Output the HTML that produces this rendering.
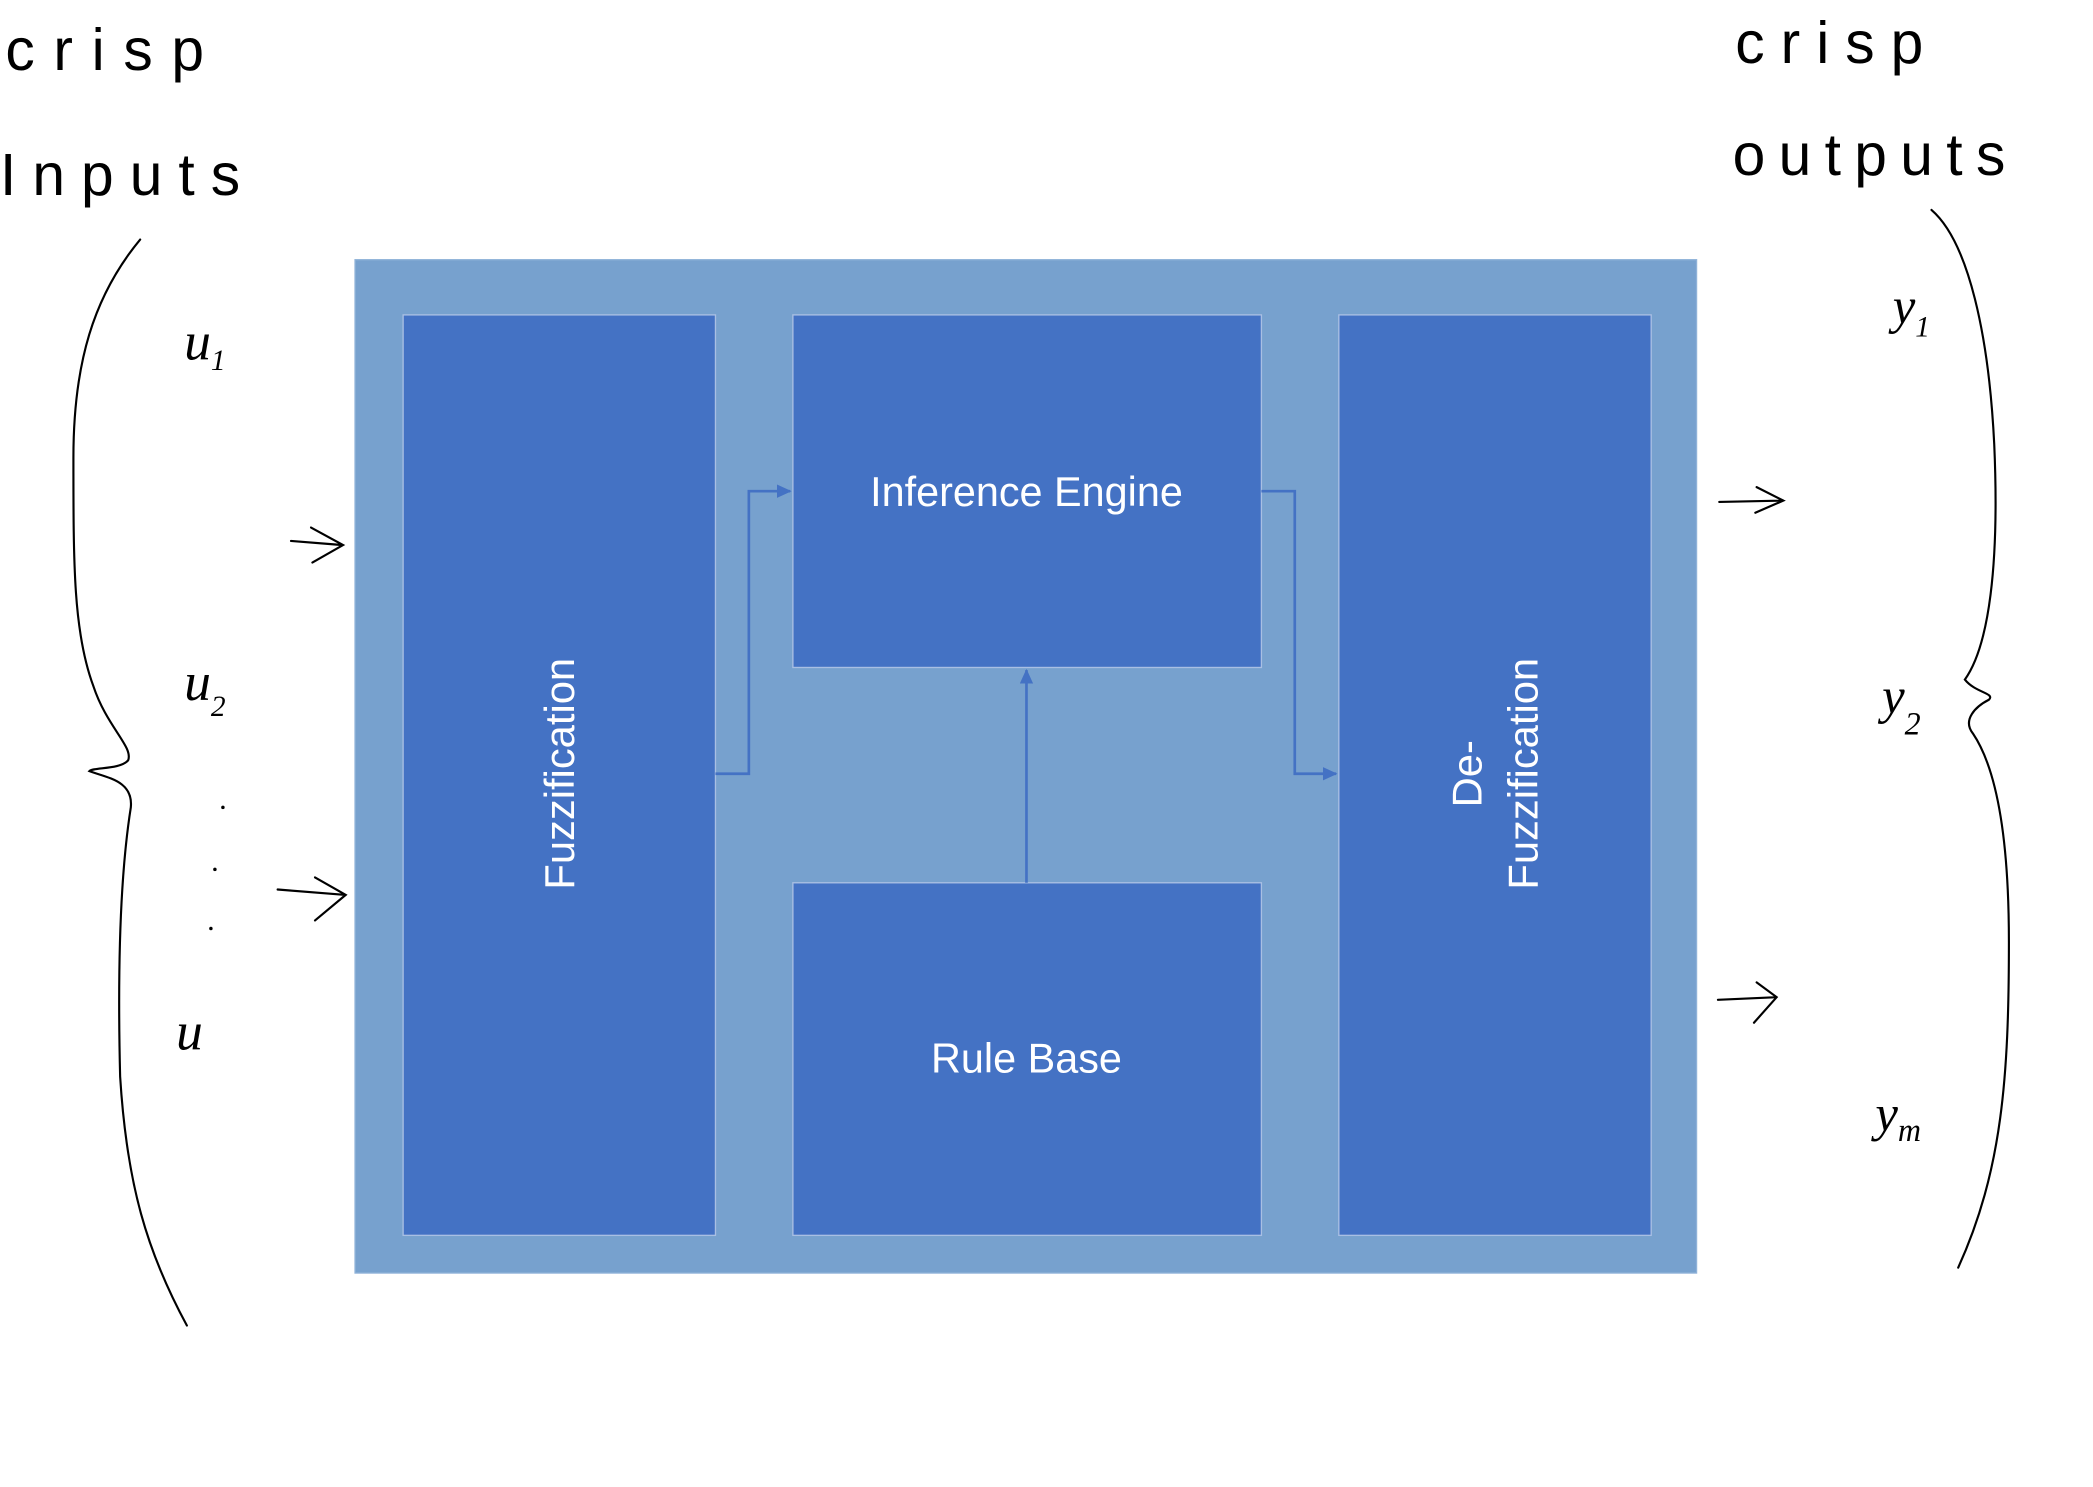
<!DOCTYPE html>
<html><head><meta charset="utf-8"><style>
html,body{margin:0;padding:0;background:#fff;}
svg{display:block;}
</style></head><body>
<svg width="2093" height="1487" viewBox="0 0 1568 1105" preserveAspectRatio="none" xmlns="http://www.w3.org/2000/svg">
<defs>
<marker id="ah" markerWidth="11" markerHeight="11" refX="10" refY="5" orient="auto" markerUnits="userSpaceOnUse">
<path d="M0,0 L11,5 L0,10 z" fill="#4472C4"/>
</marker>
</defs>
<rect x="0" y="0" width="1568" height="1105" fill="#fff"/>
<rect x="266" y="193" width="1005" height="753" fill="#77A1CE" stroke="#8fb2d8" stroke-width="1"/>
<g fill="#4472C4" stroke="#a9bfe3" stroke-width="1">
<rect x="302" y="234" width="234" height="684"/>
<rect x="594" y="234" width="351" height="262"/>
<rect x="594" y="656" width="351" height="262"/>
<rect x="1003" y="234" width="234" height="684"/>
</g>
<g stroke="#4472C4" stroke-width="2" fill="none">
<path d="M536,575 H561 V365 H592" marker-end="url(#ah)"/>
<path d="M945,365 H970 V575 H1001" marker-end="url(#ah)"/>
<path d="M769,656 V498" marker-end="url(#ah)"/>
</g>
<g fill="#fff" font-family="Liberation Sans, sans-serif" font-size="31" text-anchor="middle">
<text x="769" y="376">Inference Engine</text>
<text x="769" y="797">Rule Base</text>
<text transform="translate(430,575) rotate(-90)">Fuzzification</text>
<text transform="translate(1110,575) rotate(-90)" x="0" y="0">De-</text>
<text transform="translate(1152,575) rotate(-90)">Fuzzification</text>
</g>
<g fill="none" stroke="#000" stroke-width="1.6" stroke-linecap="round">
<path d="M105,178 C70,220 55,270 55,340 C55,420 55,470 70,510 C80,540 100,555 96,565 C90,572 70,570 67,573 C80,578 100,580 98,600 C90,650 88,720 90,800 C95,880 110,930 140,985"/>
<path d="M1447,156 C1475,180 1490,250 1494,330 C1498,420 1490,480 1472,505 C1480,515 1495,515 1490,520 C1480,525 1470,535 1478,545 C1495,570 1505,620 1505,700 C1505,800 1500,870 1467,942"/>
<path d="M218,402 L256,405 M233,392 L257,405 L234,418"/>
<path d="M208,661 L259,665 M236,652 L259,665 L236,684"/>
<path d="M1288,373 L1336,372 M1316,362 L1336,372 L1315,381"/>
<path d="M1287,743 L1331,741 M1316,730 L1331,741 L1314,760"/>
</g>
<g fill="#000" font-family="Liberation Sans, sans-serif" font-weight="300" font-size="44">
<text x="4" y="52" letter-spacing="14">crisp</text>
<text x="0" y="145" letter-spacing="12">Inputs</text>
<text x="1300" y="47" letter-spacing="12">crisp</text>
<text x="1298" y="130" letter-spacing="10">outputs</text>
</g>
<g fill="#000" font-family="Liberation Serif, serif" font-style="italic" font-size="42">
<text x="138" y="267" font-size="40">u<tspan font-size="22" dy="8">1</tspan></text>
<text x="138" y="520" font-size="40">u<tspan font-size="22" dy="12">2</tspan></text>
<text x="132" y="780" font-size="40">u</text>
<text x="1418" y="240" font-size="38">y<tspan font-size="22" dy="10">1</tspan></text>
<text x="1410" y="530" font-size="38">y<tspan font-size="24" dy="16">2</tspan></text>
<text x="1405" y="840" font-size="38">y<tspan font-size="24" dy="8">m</tspan></text>
<circle cx="167" cy="600" r="1.3"/><circle cx="161" cy="646" r="1.3"/><circle cx="158" cy="690" r="1.3"/>
</g>
</svg>
</body></html>
